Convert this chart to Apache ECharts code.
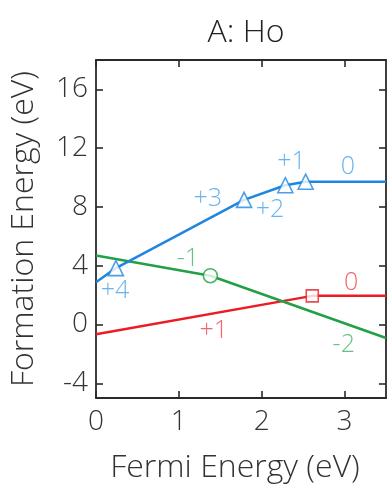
<!DOCTYPE html>
<html>
<head>
<meta charset="utf-8">
<script src="https://cdn.jsdelivr.net/npm/echarts@6/dist/echarts.min.js"></script>
<style>
html,body{margin:0;padding:0;background:#fff;}
#chart{width:387px;height:493px;}
</style>
</head>
<body>
<div id="chart"></div>
<script>
// Data (Fermi energy in eV, formation energy in eV)
const blueLine = [[0, 2.88], [0.24, 3.84], [1.787, 8.48], [2.285, 9.48], [2.53, 9.72], [3.5, 9.72]];
const blueMarks = [[0.24, 3.84], [1.787, 8.48], [2.285, 9.48], [2.53, 9.72]];
const greenLine = [[0, 4.70], [1.38, 3.32], [3.5, -0.92]];
const greenMarks = [[1.38, 3.32]];
const redLine = [[0, -0.66], [2.61, 1.95], [3.5, 1.95]];
const redMarks = [[2.61, 1.95]];

const blueLabels = [[0.23, 2.31, '+4'], [1.35, 8.52, '+3'], [2.10, 7.80, '+2'], [2.36, 11.1, '+1'], [3.04, 10.75, '0']];
const greenLabels = [[1.11, 4.45, '-1'], [2.99, -1.38, '-2']];
const redLabels = [[1.42, -0.41, '+1'], [3.08, 2.85, '0']];

const xTicks = [0, 1, 2, 3];
const yTicks = [-4, 0, 4, 8, 12, 16];

const BLUE = '#1f86e0', BLUE_T = '#45a0ea';
const GREEN = '#23a046', GREEN_T = '#3cb463';
const RED = '#ec1c24', RED_T = '#ef3e45';
const FONT = '"Open Sans", sans-serif';
const AX = '#2a2a2a';

function lineSeries(data, color) {
  return { type: 'line', data: data, showSymbol: false, symbol: 'none', silent: true,
    lineStyle: { color: color, width: 2.5 }, z: 2, animation: false };
}
function markSeries(data, color, symbol, size) {
  return { type: 'scatter', data: data, symbol: symbol, symbolSize: size, silent: true,
    itemStyle: { color: '#fff', borderColor: color, borderWidth: 1.6 }, z: 4, animation: false };
}
function labelSeries(data, color) {
  return { type: 'scatter', symbolSize: 0, silent: true, z: 5, animation: false,
    data: data.map(d => ({ value: [d[0], d[1]], name: d[2] })),
    label: { show: true, position: 'inside', formatter: p => p.name, color: color,
      fontSize: 25, fontFamily: FONT, fontWeight: 300 } };
}

const axisCommon = {
  axisLine: { show: true, onZero: false, lineStyle: { color: AX, width: 1.8 } },
  splitLine: { show: false },
};
const tickStyle = { color: AX, width: 1.6 };

const chart = echarts.init(document.getElementById('chart'), null, { renderer: 'canvas' });
chart.setOption({
  backgroundColor: '#fff',
  animation: false,
  title: { text: 'A: Ho', left: 241, top: 12, textAlign: 'center',
    textStyle: { fontFamily: FONT, fontSize: 32, fontWeight: 300, color: '#222' } },
  grid: { left: 96, right: 1, top: 60, bottom: 95, containLabel: false },
  xAxis: [
    Object.assign({}, axisCommon, { type: 'value', min: 0, max: 3.5, position: 'bottom',
      name: 'Fermi Energy (eV)', nameLocation: 'middle', nameGap: 54,
      nameTextStyle: { fontFamily: FONT, fontSize: 32, fontWeight: 300, color: '#333', padding: [0, 12, 0, 0] },
      axisTick: { show: true, inside: true, length: 7, customValues: xTicks, lineStyle: tickStyle },
      axisLabel: { customValues: xTicks, fontFamily: FONT, fontSize: 28, fontWeight: 300, color: '#333', margin: 10 } }),
    Object.assign({}, axisCommon, { type: 'value', min: 0, max: 3.5, position: 'top',
      axisTick: { show: true, inside: true, length: 7, customValues: xTicks, lineStyle: tickStyle },
      axisLabel: { show: false } })
  ],
  yAxis: [
    Object.assign({}, axisCommon, { type: 'value', min: -5, max: 18, position: 'left',
      name: 'Formation Energy (eV)', nameLocation: 'middle', nameGap: 56, nameRotate: 90,
      nameTextStyle: { fontFamily: FONT, fontSize: 32, fontWeight: 300, color: '#333' },
      axisTick: { show: true, inside: true, length: 7, customValues: yTicks, lineStyle: tickStyle },
      axisLabel: { customValues: yTicks, fontFamily: FONT, fontSize: 28, fontWeight: 300, color: '#333', margin: 8 } }),
    Object.assign({}, axisCommon, { type: 'value', min: -5, max: 18, position: 'right',
      axisTick: { show: true, inside: true, length: 7, customValues: yTicks, lineStyle: tickStyle },
      axisLabel: { show: false } })
  ],
  series: [
    lineSeries(redLine, RED),
    lineSeries(greenLine, GREEN),
    lineSeries(blueLine, BLUE),
    markSeries(blueMarks, BLUE, 'triangle', 15),
    markSeries(greenMarks, GREEN, 'circle', 14),
    markSeries(redMarks, RED, 'rect', 12),
    labelSeries(blueLabels, BLUE_T),
    labelSeries(greenLabels, GREEN_T),
    labelSeries(redLabels, RED_T)
  ]
});
</script>
</body>
</html>
